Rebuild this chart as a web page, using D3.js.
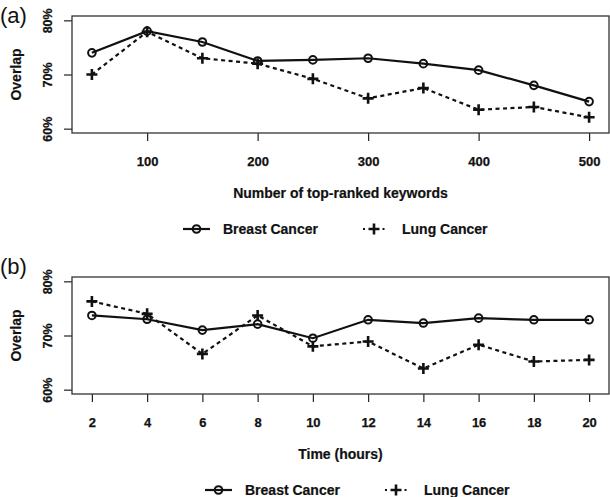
<!DOCTYPE html>
<html>
<head>
<meta charset="utf-8">
<script src="https://cdn.jsdelivr.net/npm/d3@7"></script>
<style>
  body { margin: 0; background: #fff; }
  svg { display: block; font-family: "Liberation Sans", Arial, sans-serif; }
  .tick text { font-weight: bold; fill: #111; stroke: #111; stroke-width: 0.25; }
  .tick line { stroke: #222; stroke-width: 1.2; }
  .frame { fill: none; stroke: #333; stroke-width: 1.3; }
  .serie { fill: none; stroke: #111; stroke-width: 2.2; }
  .serie.lung { stroke-dasharray: 4,3.5; }
  .mark-circle { fill: none; stroke: #111; stroke-width: 2; }
  .mark-plus { stroke: #111; stroke-width: 2.6; }
  .lab { font-weight: bold; fill: #111; stroke: #111; stroke-width: 0.2; }
</style>
</head>
<body>
<svg id="chart" width="610" height="497"></svg>
<script>
// panel (a): overlap vs number of top-ranked keywords
var keywordCounts = [50, 100, 150, 200, 250, 300, 350, 400, 450, 500];
var breastByKeywords = [74.0, 78.0, 76.0, 72.5, 72.7, 73.0, 72.0, 70.8, 68.0, 65.0];
var lungByKeywords = [70.0, 77.9, 73.0, 72.0, 69.2, 65.6, 67.5, 63.5, 64.0, 62.1];
var keywordTicks = [100, 200, 300, 400, 500];

// panel (b): overlap vs time
var hours = [2, 4, 6, 8, 10, 12, 14, 16, 18, 20];
var breastByHours = [73.7, 73.0, 71.0, 72.1, 69.5, 72.9, 72.3, 73.2, 72.9, 72.9];
var lungByHours = [76.3, 74.0, 66.6, 73.7, 68.0, 68.9, 63.9, 68.3, 65.2, 65.5];
var hourTicks = [2, 4, 6, 8, 10, 12, 14, 16, 18, 20];

var overlapTicks = [60, 70, 80];
var seriesNames = ['Breast Cancer', 'Lung Cancer'];

var svg = d3.select('#chart');
var left = 72, right = 609, boxH = 117;

// R style 4% padding round the limits
var pad = function (lo, hi) {
  var p = (hi - lo) * 0.04;
  return [lo - p, hi + p];
};

var drawPanel = function (settings) {
  var top = settings.top;
  var g = svg.append('g').attr('transform', 'translate(0,' + top + ')');
  var x = d3.scaleLinear().domain(pad(d3.min(settings.xs), d3.max(settings.xs))).range([left, right]);
  var y = d3.scaleLinear().domain(pad(60, 80)).range([boxH, 0]);

  var xAxis = g.append('g')
    .attr('transform', 'translate(0,' + boxH + ')')
    .call(d3.axisBottom(x).tickValues(settings.xTicks).tickSize(8).tickFormat(d3.format('d')));
  xAxis.select('.domain').remove();
  xAxis.selectAll('text')
    .attr('y', 28).attr('dy', '0.35em')
    .style('font-size', '13px');

  var yAxis = g.append('g')
    .attr('transform', 'translate(' + left + ',0)')
    .call(d3.axisLeft(y).tickValues(overlapTicks).tickSize(8).tickFormat(function (d) { return d + '%'; }));
  yAxis.select('.domain').remove();
  yAxis.selectAll('text')
    .attr('x', 0).attr('dy', 0)
    .attr('text-anchor', 'middle')
    .attr('transform', 'translate(-20.5,0) rotate(-90)')
    .style('font-size', '12.5px');

  g.append('rect').attr('class', 'frame')
    .attr('x', left).attr('y', 0)
    .attr('width', right - left).attr('height', boxH);

  var line = d3.line()
    .x(function (d, i) { return x(settings.xs[i]); })
    .y(function (d) { return y(d); });

  g.append('path').attr('class', 'serie breast').attr('d', line(settings.breast));
  g.append('path').attr('class', 'serie lung').attr('d', line(settings.lung));

  g.selectAll('.pt-circle')
    .data(settings.breast).enter()
    .append('circle').attr('class', 'mark-circle')
    .attr('cx', function (d, i) { return x(settings.xs[i]); })
    .attr('cy', function (d) { return y(d); })
    .attr('r', 3.8);

  g.selectAll('.pt-plus')
    .data(settings.lung).enter()
    .append('path').attr('class', 'mark-plus')
    .attr('d', function (d, i) {
      var cx = x(settings.xs[i]), cy = y(d), s = 5.5;
      return 'M' + (cx - s) + ',' + cy + 'H' + (cx + s) + 'M' + cx + ',' + (cy - s) + 'V' + (cy + s);
    });

  g.append('text').attr('class', 'lab')
    .attr('transform', 'translate(' + (left - 51) + ',' + (boxH / 2) + ') rotate(-90)')
    .attr('text-anchor', 'middle')
    .style('font-size', '14px')
    .text('Overlap');

  g.append('text').attr('class', 'lab')
    .attr('x', (left + right) / 2).attr('y', boxH + 65)
    .attr('text-anchor', 'middle')
    .style('font-size', '14px')
    .text(settings.xTitle);

  g.append('text')
    .attr('x', 0).attr('y', settings.tagY - top)
    .attr('dy', '0.36em')
    .style('font-size', '22px')
    .attr('fill', '#111')
    .text(settings.tag);

  // legend
  var ly = boxH + 96, lx = settings.legendX;
  var leg = g.append('g').attr('transform', 'translate(' + lx + ',' + ly + ')');
  leg.append('line').attr('class', 'serie').attr('x1', 0).attr('x2', 27).attr('y1', 0).attr('y2', 0);
  leg.append('circle').attr('class', 'mark-circle').attr('cx', 13.5).attr('cy', 0).attr('r', 3.8);
  leg.append('text').attr('class', 'lab').attr('x', 40).attr('dy', '0.35em')
    .style('font-size', '14px').text(seriesNames[0]);
  leg.append('line').attr('class', 'serie lung').attr('x1', 180).attr('x2', 204).attr('y1', 0).attr('y2', 0)
    .style('stroke-dasharray', '2,4.5');
  leg.append('path').attr('class', 'mark-plus')
    .attr('d', 'M185.5,0H196.5M191,-5.5V5.5');
  leg.append('text').attr('class', 'lab').attr('x', 219).attr('dy', '0.35em')
    .style('font-size', '14px').text(seriesNames[1]);
};

drawPanel({
  top: 16, xs: keywordCounts, breast: breastByKeywords, lung: lungByKeywords,
  xTicks: keywordTicks, xTitle: 'Number of top-ranked keywords',
  tag: '(a)', tagY: 15, legendX: 183
});

drawPanel({
  top: 277, xs: hours, breast: breastByHours, lung: lungByHours,
  xTicks: hourTicks, xTitle: 'Time (hours)',
  tag: '(b)', tagY: 266, legendX: 205
});
</script>
</body>
</html>
